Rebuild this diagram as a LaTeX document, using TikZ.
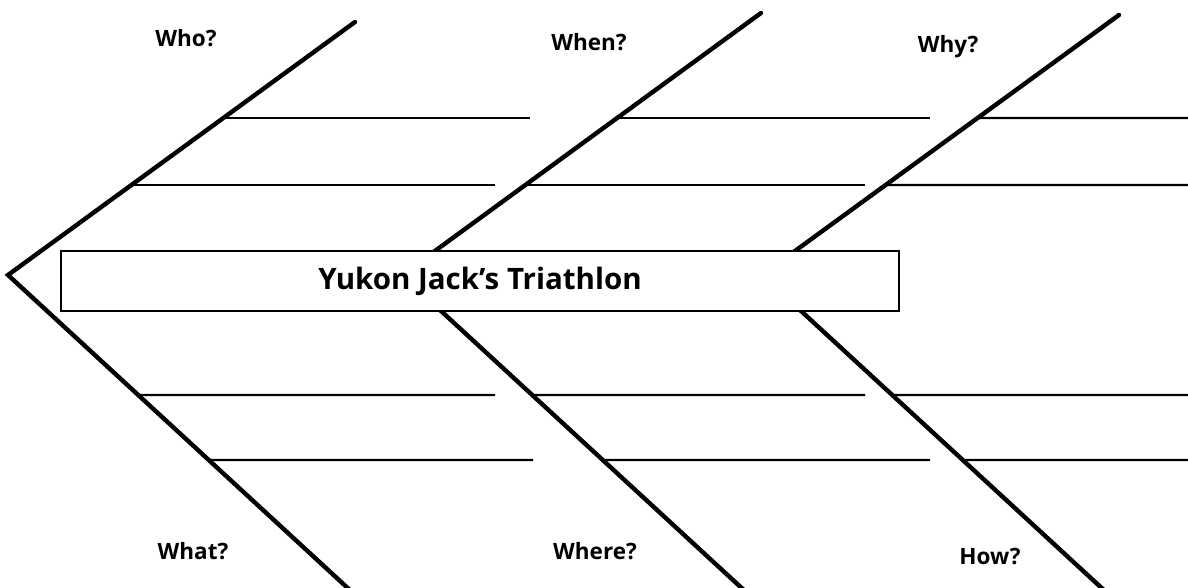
\documentclass[tikz,border=0pt]{standalone}
\usepackage{fontspec}
\setmainfont{Open Sans}
\tikzset{
  bone/.style={line width=4.4pt, line cap=round},
  rib/.style={line width=2.2pt},
  ask/.style={font=\bfseries\fontsize{22.5}{26}\selectfont, inner sep=0pt},
  titlebox/.style={draw, line width=2.4pt, fill=white, minimum width=838pt, minimum height=60pt,
    font=\bfseries\fontsize{29.5}{34}\selectfont}
}
\begin{document}
\begin{tikzpicture}[x=1pt,y=-1pt]
\useasboundingbox (0,0) rectangle (1188,587);
% heads of the three bones, tips above and below
\coordinate (h1) at (8,275);
\coordinate (h2) at (402,275);
\coordinate (h3) at (762,275);
\coordinate (t1) at (355,22);
\coordinate (t2) at (761,13);
\coordinate (t3) at (1119,15);
\coordinate (b1) at (352,592);
\coordinate (b2) at (746,592);
\coordinate (b3) at (1106,592);
\foreach \i in {1,2,3}{
  \draw[bone] (t\i) -- (h\i) -- (b\i);
}
% ribs
\foreach \i/\ea/\eb/\ec/\ed in {1/530/495/495/533, 2/930/865/865/930, 3/1188/1188/1188/1188}{
  \draw[rib] (intersection cs: first line={(h\i)--(t\i)}, second line={(0,118)--(1,118)}) -- (\ea,118);
  \draw[rib] (intersection cs: first line={(h\i)--(t\i)}, second line={(0,185)--(1,185)}) -- (\eb,185);
  \draw[rib] (intersection cs: first line={(h\i)--(b\i)}, second line={(0,395)--(1,395)}) -- (\ec,395);
  \draw[rib] (intersection cs: first line={(h\i)--(b\i)}, second line={(0,460)--(1,460)}) -- (\ed,460);
}
\node[titlebox] (title) at (480,281) {Yukon Jack’s Triathlon};
\node[ask] (who) at (186,38) {Who?};
\node[ask] (when) at (589,42) {When?};
\node[ask] (why) at (948,47) {Why?};
\node[ask] (what) at (193,551) {What?};
\node[ask] (where) at (595,551) {Where?};
\node[ask] (how) at (990,556) {How?};
\end{tikzpicture}
\end{document}
